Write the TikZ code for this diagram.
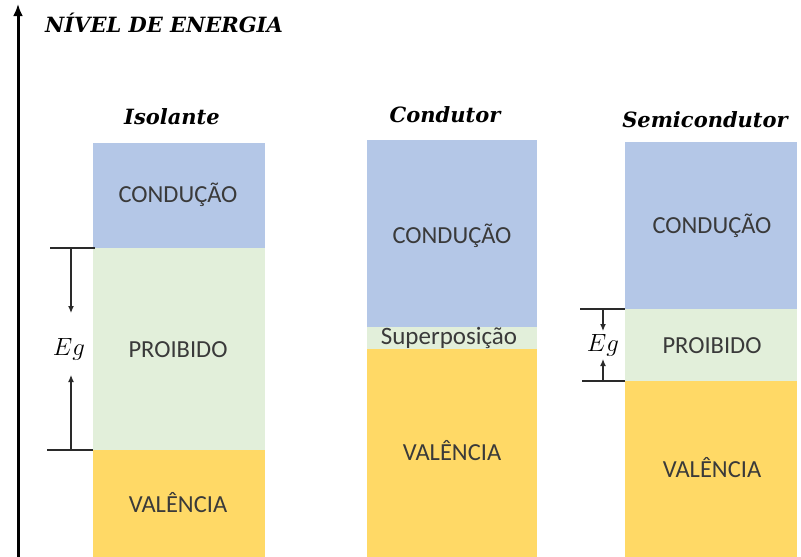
\documentclass[tikz,border=0pt]{standalone}
\usepackage{fontspec}
\setmainfont{Carlito}
\newfontfamily\titlefont{DejaVu Serif}
\usetikzlibrary{arrows.meta}
\definecolor{cond}{HTML}{B4C7E7}
\definecolor{proib}{HTML}{E2EFDA}
\definecolor{val}{HTML}{FFD966}
\definecolor{txt}{HTML}{3A3A3A}
\definecolor{ln}{HTML}{2A2A2A}
\tikzset{
  bandtext/.style={font=\fontsize{24.5}{28}\selectfont, text=txt, inner sep=0pt},
  ttl/.style={font=\titlefont\bfseries\itshape\fontsize{21}{24}\selectfont, inner sep=0pt},
  tick/.style={draw=ln, line width=1.2pt},
  egarrow/.style={draw=ln, line width=1.2pt, -{Latex[length=7pt,width=6pt]}},
  eglabel/.style={font=\fontsize{24}{28}\selectfont, inner sep=0pt}
}
\begin{document}
\begin{tikzpicture}[x=1pt,y=-1pt]
\useasboundingbox (0,0) rectangle (801,557);
% axis
\coordinate (ax0) at (18,557);
\coordinate (ax1) at (18,4);
\draw[line width=3pt, -{Latex[length=12pt,width=10pt]}] (ax0) -- (ax1);
\node[ttl, anchor=west] (axtitle) at (45,23) {NÍVEL DE ENERGIA};
% Isolante
\fill[cond] (93,143) rectangle (265,248);
\fill[proib] (93,248) rectangle (265,450);
\fill[val] (93,450) rectangle (265,557);
\node[ttl] (tiso) at (172,117) {Isolante};
\node[bandtext] (c1) at (178,195) {CONDUÇÃO};
\node[bandtext] (p1) at (178,350) {PROIBIDO};
\node[bandtext] (v1) at (178,503) {VALÊNCIA};
\coordinate (t1a) at (50,248); \coordinate (t1b) at (95,248);
\coordinate (b1a) at (47,450); \coordinate (b1b) at (93,450);
\draw[tick] (t1a) -- (t1b);
\draw[tick] (b1a) -- (b1b);
\coordinate (a1s) at (71,248); \coordinate (a1e) at (71,313);
\coordinate (a2s) at (71,450); \coordinate (a2e) at (71,375);
\draw[egarrow] (a1s) -- (a1e);
\draw[egarrow] (a2s) -- (a2e);
\node[eglabel] (eg1) at (69,349) {$Eg$};
% Condutor
\fill[cond] (367,140) rectangle (537,327);
\fill[proib] (367,327) rectangle (537,349);
\fill[val] (367,349) rectangle (537,557);
\node[ttl] (tcond) at (445,115) {Condutor};
\node[bandtext] (c2) at (452,236) {CONDUÇÃO};
\node[bandtext, font=\fontsize{25}{28}\selectfont] (s2) at (449,338) {Superposição};
\node[bandtext] (v2) at (452,451) {VALÊNCIA};
% Semicondutor
\fill[cond] (625,142) rectangle (797,309);
\fill[proib] (625,309) rectangle (797,381);
\fill[val] (625,381) rectangle (797,557);
\node[ttl] (tsemi) at (705,120) {Semicondutor};
\node[bandtext] (c3) at (712,226) {CONDUÇÃO};
\node[bandtext] (p3) at (712,346) {PROIBIDO};
\node[bandtext] (v3) at (712,468) {VALÊNCIA};
\coordinate (t3a) at (580,309); \coordinate (t3b) at (625,309);
\coordinate (b3a) at (582,381); \coordinate (b3b) at (625,381);
\draw[tick] (t3a) -- (t3b);
\draw[tick] (b3a) -- (b3b);
\coordinate (a3s) at (603,309); \coordinate (a3e) at (603,331);
\coordinate (a4s) at (603,381); \coordinate (a4e) at (603,359);
\draw[egarrow] (a3s) -- (a3e);
\draw[egarrow] (a4s) -- (a4e);
\node[eglabel] (eg3) at (603,345) {$Eg$};
\end{tikzpicture}
\end{document}
